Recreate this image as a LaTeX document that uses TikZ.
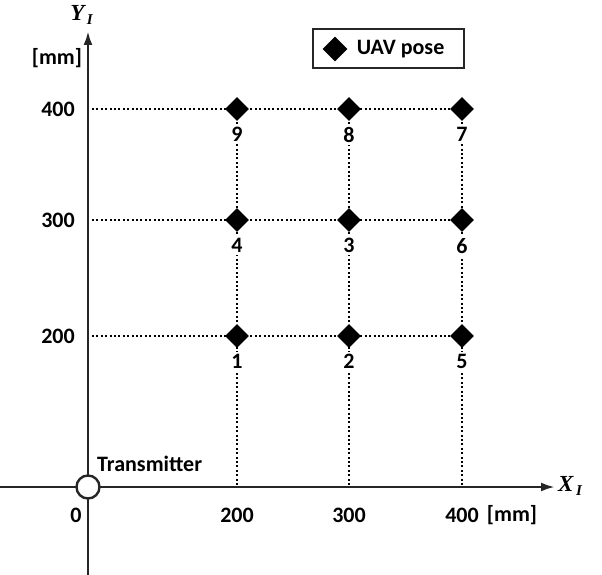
\documentclass[tikz,border=0pt]{standalone}
\usepackage{fontspec}
\setmainfont{Carlito}
\newfontfamily\axisfont{Liberation Serif}
\usetikzlibrary{shapes.geometric}
\usetikzlibrary{positioning}
\usetikzlibrary {arrows.meta}

\begin{document}
\begin{tikzpicture}[x=1pt, y=-1pt,
    axisline/.style={line width=2.6pt, draw=black!85, -{Latex[length=14pt, width=9pt]}},
    gridline/.style={line width=2pt, dash pattern=on 2pt off 2.4pt},
    pose/.style={diamond, fill=black, inner sep=0pt, minimum size=24pt},
    lbl/.style={font=\fontsize{22}{25}\selectfont\bfseries, inner sep=0pt},
    numlbl/.style={lbl, fill=white, inner sep=2pt},
    axislbl/.style={font=\fontsize{23}{26}\selectfont\axisfont\bfseries\itshape, inner sep=0pt},
]
    \useasboundingbox (0,0) rectangle (602,575);

    % Axes
    \coordinate (origin) at (88,487);
    \coordinate (x_start) at (0,487);
    \coordinate (x_end) at (555,487);
    \coordinate (y_start) at (88,575);
    \coordinate (y_end) at (88,31);
    \draw [axisline] (x_start) -- (x_end);
    \draw [axisline] (y_start) -- (y_end);
    \node at (x_end) [axislbl, anchor=west, xshift=3pt, yshift=1pt](x_title){X\raisebox{-0.45ex}{\fontsize{15}{16}\selectfont\,I}};
    \node at (y_end) [axislbl, anchor=south east, xshift=5pt, yshift=6pt](y_title){Y\raisebox{-0.45ex}{\fontsize{15}{16}\selectfont\,I}};

    % Transmitter
    \node at (origin) [circle, draw=black!85, line width=2.4pt, fill=white, minimum size=23pt, inner sep=0pt](tx){};
    \node at (97,471) [lbl, anchor=base west](tx_title){Transmitter};

    % Pose positions
    \coordinate (c1) at (237,336);
    \coordinate (c2) at (349,336);
    \coordinate (c5) at (462,336);
    \coordinate (c4) at (237,220);
    \coordinate (c3) at (349,220);
    \coordinate (c6) at (462,220);
    \coordinate (c9) at (237,109);
    \coordinate (c8) at (349,109);
    \coordinate (c7) at (462,109);

    % Grid
    \draw [gridline] ([xshift=4pt]origin |- c5) -- (c5);
    \draw [gridline] ([xshift=4pt]origin |- c6) -- (c6);
    \draw [gridline] ([xshift=4pt]origin |- c7) -- (c7);
    \draw [gridline] (c9) -- (c9 |- origin);
    \draw [gridline] (c8) -- (c8 |- origin);
    \draw [gridline] (c7) -- (c7 |- origin);

    % Poses
    \node at (c1) [pose](p1){};
    \node at (c2) [pose](p2){};
    \node at (c5) [pose](p5){};
    \node at (c4) [pose](p4){};
    \node at (c3) [pose](p3){};
    \node at (c6) [pose](p6){};
    \node at (c9) [pose](p9){};
    \node at (c8) [pose](p8){};
    \node at (c7) [pose](p7){};
    \node [numlbl, below=4pt of p1](n1){1};
    \node [numlbl, below=4pt of p2](n2){2};
    \node [numlbl, below=4pt of p5](n5){5};
    \node [numlbl, below=4pt of p4](n4){4};
    \node [numlbl, below=4pt of p3](n3){3};
    \node [numlbl, below=4pt of p6](n6){6};
    \node [numlbl, below=4pt of p9](n9){9};
    \node [numlbl, below=4pt of p8](n8){8};
    \node [numlbl, below=4pt of p7](n7){7};

    % Tick labels
    \node at (58,336) [lbl](y200){200};
    \node at (58,220) [lbl](y300){300};
    \node at (58,109) [lbl](y400){400};
    \node at (57,58) [lbl](y_unit){[mm]};
    \node at (76,515) [lbl](x0){0};
    \node at (c9 |- x0) [lbl](x200){200};
    \node at (c8 |- x0) [lbl](x300){300};
    \node at (c7 |- x0) [lbl](x400){400};
    \node at (512,515) [lbl](x_unit){[mm]};

    % Legend
    \node at (388.5,48.5) [draw=black!85, line width=2pt, minimum width=151pt, minimum height=39pt](legend){};
    \node at (335,49) [pose, minimum size=25pt](legend_pose){};
    \node [lbl, right=9pt of legend_pose](legend_title){UAV pose};

\end{tikzpicture}
\end{document}
